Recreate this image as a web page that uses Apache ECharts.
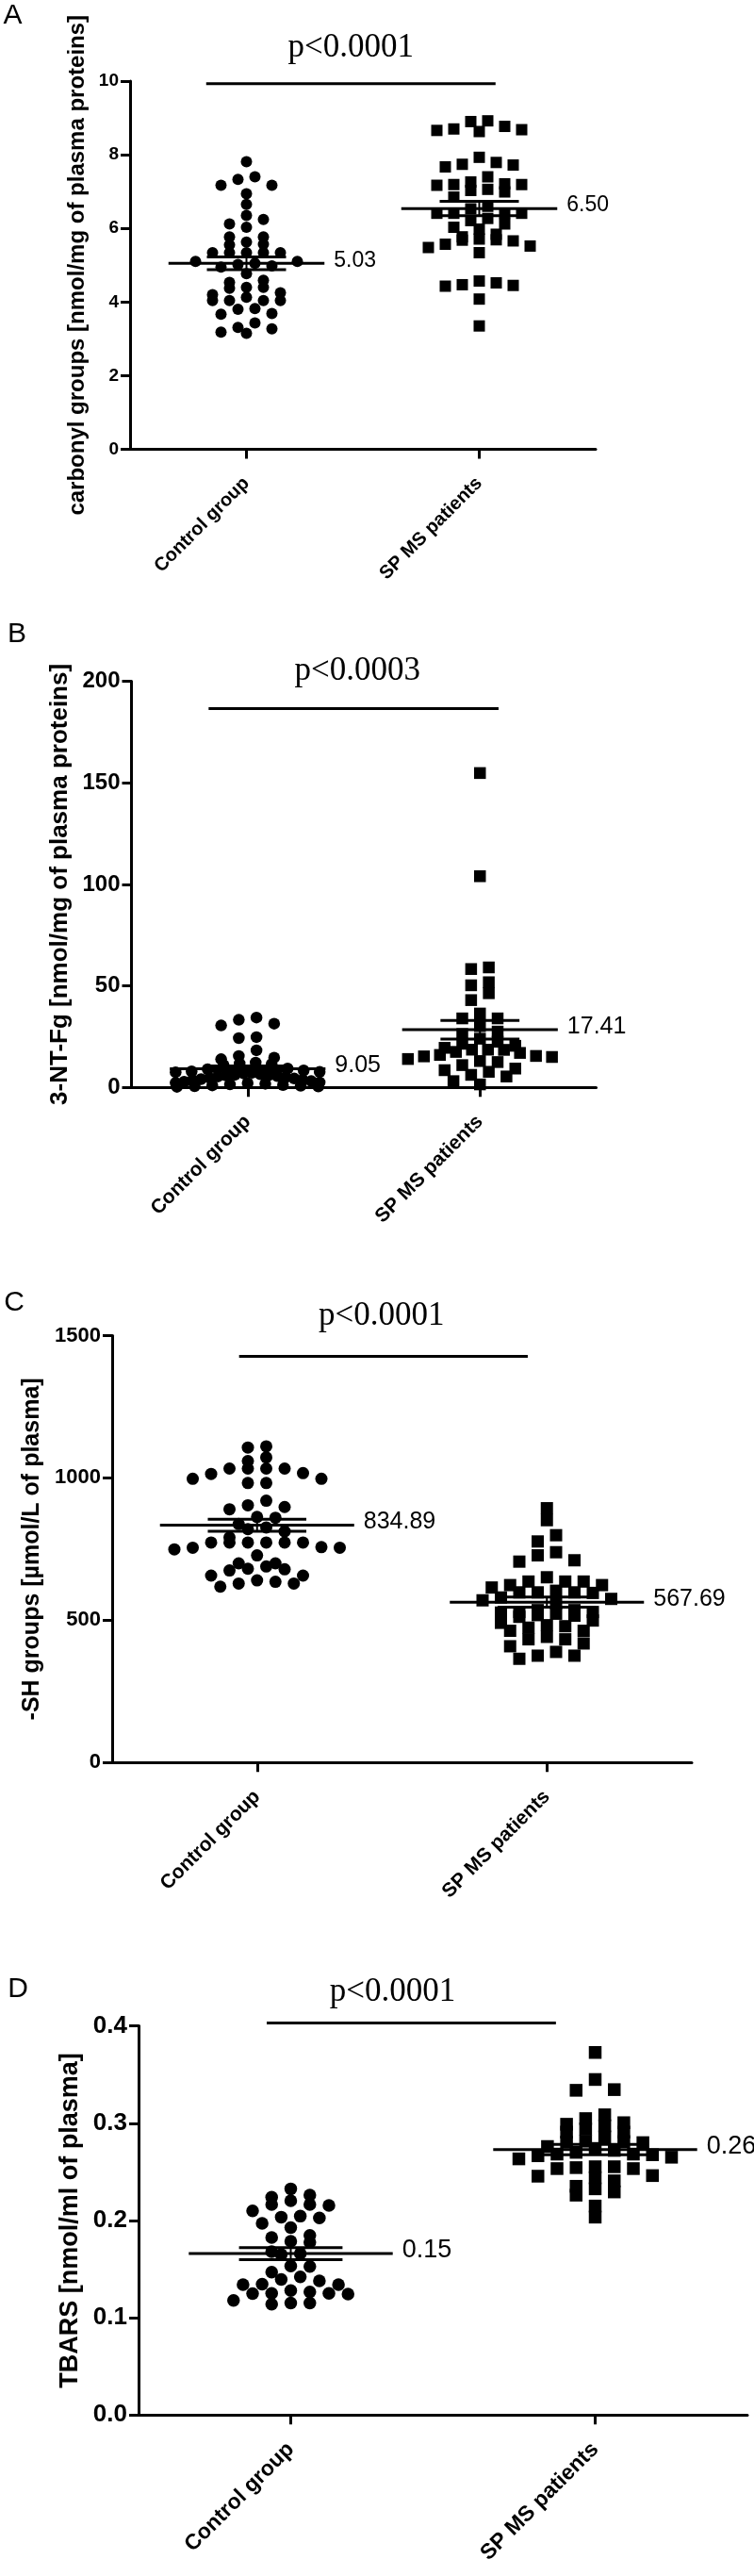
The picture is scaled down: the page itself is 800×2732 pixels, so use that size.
<!DOCTYPE html>
<html>
<head>
<meta charset="utf-8">
<script src="https://cdn.jsdelivr.net/npm/echarts@6.0.0/dist/echarts.min.js"></script>
<style>
html,body{margin:0;padding:0;background:#fff;}
#chart{width:800px;height:2732px;}
</style>
</head>
<body>
<div id="chart"></div>
<script>
// ---------------- DATA ----------------
const categories = ['Control group', 'SP MS patients'];
const panelLetters = ['A', 'B', 'C', 'D'];
const yTitles = [
  'carbonyl groups [nmol/mg of plasma proteins]',
  '3-NT-Fg [nmol/mg of plasma proteins]',
  '-SH groups [µmol/L of plasma]',
  'TBARS [nmol/ml of plasma]'
];
const pTexts = ['p<0.0001', 'p<0.0003', 'p<0.0001', 'p<0.0001'];
const pBarLevels = [9.93, 186.5, 1427, 0.403];

const tickLabelsA = ['0', '2', '4', '6', '8', '10'];
const tickLabelsB = ['0', '50', '100', '150', '200'];
const tickLabelsC = ['0', '500', '1000', '1500'];
const tickLabelsD = ['0.0', '0.1', '0.2', '0.3', '0.4'];

const meanLabelsA = ['5.03', '6.50'];
const meanLabelsB = ['9.05', '17.41'];
const meanLabelsC = ['834.89', '567.69'];
const meanLabelsD = ['0.15', '0.26'];

const carbonylControl = [7.81, 7.40, 7.33, 7.17, 7.17, 6.94, 6.65, 6.35, 6.24, 6.12, 6.03, 5.77, 5.77, 5.63, 5.57, 5.55,
  5.34, 5.34, 5.34, 5.34, 5.34, 5.10, 5.10, 5.05, 5.02, 4.98, 4.95, 4.77, 4.59, 4.53, 4.40, 4.40, 4.37, 4.25, 4.20,
  4.13, 4.04, 4.04, 4.04, 4.04, 3.82, 3.80, 3.69, 3.67, 3.43, 3.31, 3.27, 3.18, 3.15];
const carbonylSPMS = [8.92, 8.90, 8.77, 8.70, 8.68, 8.66, 8.63, 7.93, 7.79, 7.74, 7.72, 7.67, 7.40, 7.26, 7.21, 7.19,
  7.19, 7.17, 7.06, 7.03, 6.99, 6.85, 6.60, 6.53, 6.41, 6.41, 6.41, 6.41, 6.27, 6.21, 6.12, 6.03, 5.98, 5.84, 5.77,
  5.71, 5.69, 5.68, 5.66, 5.57, 5.52, 5.48, 5.34, 4.57, 4.52, 4.47, 4.45, 4.43, 4.08, 3.35];

const ntfgControl = [34.4, 33.3, 31.4, 30.5, 24.8, 24.3, 18.3, 15.5, 14.7, 13.9, 12.2, 11.8, 11.5, 11.0, 9.3, 9.0,
  8.4, 7.9, 7.7, 7.5, 7.2, 6.9, 6.5, 6.2, 6.0, 5.8, 5.6, 5.4, 5.0, 4.7, 4.4, 4.1, 3.8, 3.5, 3.1, 2.8, 2.5, 2.3, 2.1,
  1.8, 1.5, 1.2, 1.0, 0.8, 0.6, 0.5, 0.3];
const ntfgSPMS = [154.8, 104.0, 59.1, 58.3, 51.8, 50.3, 46.4, 43.0, 36.4, 34.0, 34.0, 30.2, 27.5, 26.3, 24.0, 22.5,
  21.5, 20.5, 19.5, 18.6, 18.6, 18.5, 17.5, 17.0, 16.0, 15.5, 15.3, 15.0, 14.0, 13.0, 12.5, 11.0, 9.3, 8.5, 7.7,
  6.2, 5.4, 3.1, 1.5];

const shControl = [1111, 1107, 1072, 1059, 1033, 1033, 1033, 1033, 1017, 1014, 997, 997, 982, 982, 920, 904, 898,
  890, 863, 860, 838, 826, 820, 812, 791, 773, 773, 773, 773, 773, 773, 757, 755, 755, 749, 728, 700, 700, 689,
  681, 679, 675, 657, 657, 640, 635, 629, 629, 618];
const shSPMS = [893.6, 851.6, 798.8, 776.8, 739, 728, 710.7, 706, 651, 636, 636, 636, 623.5, 623.5, 615, 603.6,
  598, 598, 598, 596, 580, 575, 570, 560, 535.5, 535.5, 529, 529, 527, 523, 518, 516, 512, 499, 491, 482.6, 479,
  474, 463, 463, 441.6, 433, 433, 418.5, 408.6, 388.8, 375.5, 375.5, 364.6];

const tbarsControl = [0.2325, 0.2261, 0.2238, 0.2203, 0.2164, 0.2164, 0.2155, 0.2099, 0.2044, 0.2034, 0.2025,
  0.197, 0.1927, 0.1847, 0.1824, 0.1785, 0.1776, 0.168, 0.166, 0.165, 0.1532, 0.1526, 0.1469, 0.1419, 0.1393,
  0.1378, 0.1345, 0.134, 0.1339, 0.128, 0.1264, 0.1251, 0.1251, 0.1248, 0.1242, 0.1177, 0.115, 0.115, 0.1138];
const tbarsSPMS = [0.3727, 0.3449, 0.3345, 0.3338, 0.3086, 0.3047, 0.3005, 0.2989, 0.2973, 0.2941, 0.2908, 0.2908,
  0.2859, 0.2815, 0.2811, 0.2805, 0.2800, 0.276, 0.274, 0.272, 0.270, 0.2682, 0.2682, 0.2675, 0.2665, 0.265,
  0.2633, 0.2552, 0.2552, 0.2543, 0.2533, 0.2533, 0.2461, 0.2455, 0.2439, 0.2407, 0.2351, 0.2325, 0.2293,
  0.226, 0.2148, 0.2034];

const yMaxes = [10, 200, 1500, 0.4];
const yIntervals = [2, 50, 500, 0.1];

// ---------------- LAYOUT ----------------
const layout = [
  {left: 138, top: 86, width: 494, height: 390.5, tick: 19, cat: 20, title: 24, titleGap: 41, mean: 23, sym: 12, pX: [0.327, 1.57], pDy: 38, pDx: 0, letter: [13.5, 17]},
  {left: 139.5, top: 722.5, width: 493, height: 430.8, tick: 24, cat: 21, title: 26, titleGap: 60, mean: 25, sym: 12.5, pX: [0.332, 1.58], pDy: 40, pDx: 4, letter: [18, 673]},
  {left: 119, top: 1416.5, width: 615, height: 452.8, tick: 22, cat: 21, title: 25, titleGap: 72, mean: 25, sym: 13, pX: [0.438, 1.434], pDy: 43, pDx: -2, letter: [15, 1382]},
  {left: 147, top: 2148.6, width: 646, height: 412.6, tick: 26, cat: 23, title: 27, titleGap: 59, mean: 27, sym: 13.5, pX: [0.421, 1.371], pDy: 33, pDx: -20, letter: [19, 2110]}
];

const panels = [
  {control: carbonylControl, sp: carbonylSPMS, ticks: tickLabelsA, means: meanLabelsA},
  {control: ntfgControl, sp: ntfgSPMS, ticks: tickLabelsB, means: meanLabelsB},
  {control: shControl, sp: shSPMS, ticks: tickLabelsC, means: meanLabelsC},
  {control: tbarsControl, sp: tbarsSPMS, ticks: tickLabelsD, means: meanLabelsD}
];

const SANS = '"Liberation Sans", Arial, sans-serif';
const SERIF = '"Liberation Serif", "Times New Roman", serif';

function mean(a) { return a.reduce((s, v) => s + v, 0) / a.length; }
function sem(a) {
  const m = mean(a);
  const v = a.reduce((s, x) => s + (x - m) * (x - m), 0) / (a.length - 1);
  return Math.sqrt(v / a.length);
}

// Row-based dot-plot layout (scatter-dot arrangement like GraphPad)
function swarm(values, center, k) {
  const L = layout[k];
  const pxPerY = L.height / yMaxes[k];
  const pxPerX = L.width / 2;
  const d = L.sym;
  const rowH = d * 0.85;
  const step = d * 1.5;
  const maxHalf = 0.31 * pxPerX;
  const sorted = values.slice().sort((a, b) => b - a);
  const rows = [];
  let cur = null;
  sorted.forEach(v => {
    if (!cur || (cur.top - v) * pxPerY > rowH) { cur = {top: v, items: []}; rows.push(cur); }
    cur.items.push(v);
  });
  const out = [];
  rows.forEach(r => {
    const n = r.items.length;
    let s = step;
    if (n > 1 && (n - 1) * s / 2 > maxHalf) s = 2 * maxHalf / (n - 1);
    const slots = [];
    for (let i = 0; i < n; i++) slots.push((i - (n - 1) / 2) * s);
    slots.sort((a, b) => Math.abs(a) - Math.abs(b) || b - a);
    r.items.forEach((v, i) => out.push([center + slots[i] / pxPerX, v]));
  });
  return out;
}

const grid = [], xAxis = [], yAxis = [], series = [], graphic = [];

panels.forEach((P, k) => {
  const L = layout[k];
  grid.push({left: L.left, top: L.top, width: L.width, height: L.height, containLabel: false});
  xAxis.push({
    gridIndex: k, type: 'category', data: categories, boundaryGap: true,
    axisLine: {show: true, lineStyle: {color: '#000', width: 3}},
    axisTick: {show: true, alignWithLabel: true, length: 10, lineStyle: {color: '#000', width: 3}},
    axisLabel: {interval: 0, rotate: 45, margin: 33, color: '#000', fontFamily: SANS, fontWeight: 'bold', fontSize: L.cat},
    splitLine: {show: false}
  });
  xAxis.push({gridIndex: k, type: 'value', min: 0, max: 2, show: false});
  yAxis.push({
    gridIndex: k, type: 'value', min: 0, max: yMaxes[k], interval: yIntervals[k],
    name: yTitles[k], nameLocation: 'middle', nameRotate: 90, nameGap: L.titleGap,
    nameTextStyle: {color: '#000', fontFamily: SANS, fontWeight: 'bold', fontSize: L.title},
    axisLine: {show: true, lineStyle: {color: '#000', width: 3}},
    axisTick: {show: true, length: 10, lineStyle: {color: '#000', width: 3}},
    axisLabel: {margin: 12, color: '#000', fontFamily: SANS, fontWeight: 'bold', fontSize: L.tick,
      formatter: (v) => P.ticks[Math.round(v / yIntervals[k])]},
    splitLine: {show: false}
  });

  series.push({
    type: 'scatter', xAxisIndex: 2 * k + 1, yAxisIndex: k, symbol: 'circle', symbolSize: L.sym,
    itemStyle: {color: '#000', opacity: 1}, silent: true, z: 2,
    data: swarm(P.control, 0.5, k)
  });
  series.push({
    type: 'scatter', xAxisIndex: 2 * k + 1, yAxisIndex: k, symbol: 'rect', symbolSize: L.sym,
    itemStyle: {color: '#000', opacity: 1}, silent: true, z: 2,
    data: swarm(P.sp, 1.5, k)
  });

  const labels = P.means;
  const fontSizeMean = L.mean;
  series.push({
    type: 'custom', xAxisIndex: 2 * k + 1, yAxisIndex: k, z: 3, silent: true, clip: false,
    data: [[0.5, mean(P.control), sem(P.control)], [1.5, mean(P.sp), sem(P.sp)]],
    renderItem: function (params, api) {
      const c = api.value(0), m = api.value(1), s = api.value(2);
      const pL = api.coord([c - 0.335, m]);
      const pR = api.coord([c + 0.335, m]);
      const sT = api.coord([c, m + s]);
      const sB = api.coord([c, m - s]);
      const hw = api.size([0.17, 0])[0];
      const st = {stroke: '#000', lineWidth: 3};
      return {
        type: 'group',
        children: [
          {type: 'line', shape: {x1: pL[0], y1: pL[1], x2: pR[0], y2: pR[1]}, style: st},
          {type: 'line', shape: {x1: sT[0] - hw, y1: sT[1], x2: sT[0] + hw, y2: sT[1]}, style: st},
          {type: 'line', shape: {x1: sB[0] - hw, y1: sB[1], x2: sB[0] + hw, y2: sB[1]}, style: st},
          {type: 'line', shape: {x1: sT[0], y1: sT[1], x2: sB[0], y2: sB[1]}, style: {stroke: '#000', lineWidth: 2}},
          {type: 'text', x: pR[0] + 10, y: pR[1] - 3,
            style: {text: labels[params.dataIndex], fill: '#000', font: fontSizeMean + 'px ' + SANS, align: 'left', verticalAlign: 'middle'}}
        ]
      };
    }
  });

  const pText = pTexts[k];
  const pDy = L.pDy, pDx = L.pDx;
  series.push({
    type: 'custom', xAxisIndex: 2 * k + 1, yAxisIndex: k, z: 3, silent: true, clip: false,
    data: [[L.pX[0], L.pX[1], pBarLevels[k]]],
    renderItem: function (params, api) {
      const a = api.coord([api.value(0), api.value(2)]);
      const b = api.coord([api.value(1), api.value(2)]);
      return {
        type: 'group',
        children: [
          {type: 'line', shape: {x1: a[0], y1: a[1], x2: b[0], y2: b[1]}, style: {stroke: '#000', lineWidth: 3}},
          {type: 'text', x: (a[0] + b[0]) / 2 + pDx, y: a[1] - pDy,
            style: {text: pText, fill: '#000', font: '35px ' + SERIF, align: 'center', verticalAlign: 'middle'}}
        ]
      };
    }
  });

  graphic.push({
    type: 'text', x: L.letter[0], y: L.letter[1],
    style: {text: panelLetters[k], fill: '#000', font: '30px ' + SANS, align: 'center', verticalAlign: 'middle'}
  });
});

const chart = echarts.init(document.getElementById('chart'), null, {renderer: 'canvas', width: 800, height: 2732});
chart.setOption({
  backgroundColor: '#fff',
  animation: false,
  grid: grid,
  xAxis: xAxis,
  yAxis: yAxis,
  series: series,
  graphic: graphic
});
</script>
</body>
</html>
